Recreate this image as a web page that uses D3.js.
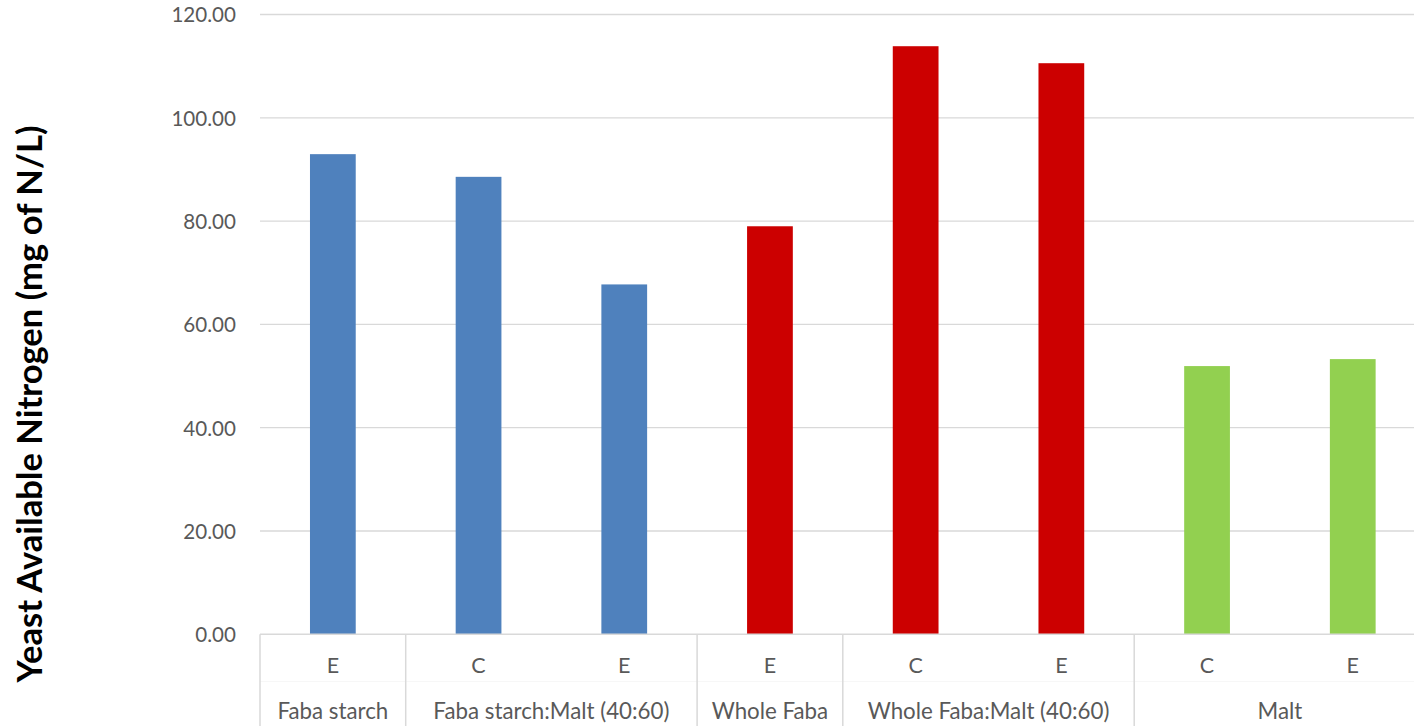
<!DOCTYPE html>
<html>
<head>
<meta charset="utf-8">
<script src="https://cdn.jsdelivr.net/npm/d3@7"></script>
<style>
  html, body { margin: 0; padding: 0; background: #ffffff; overflow: hidden; }
  svg { display: block; }
  text { font-family: Lato, "Open Sans", sans-serif; }
</style>
</head>
<body>
<svg id="chart" width="1414" height="726"></svg>
<script>
// Treatment code under each bar (first axis row)
const treatments = ["E", "C", "E", "E", "C", "E", "C", "E"];
// Substrate group for each bar (second axis row)
const groupOf = ["Faba starch", "Faba starch:Malt (40:60)", "Faba starch:Malt (40:60)",
                 "Whole Faba", "Whole Faba:Malt (40:60)", "Whole Faba:Malt (40:60)",
                 "Malt", "Malt"];
// Yeast available nitrogen, mg of N/L
const yan = [92.96, 88.57, 67.74, 79.0, 113.86, 110.57, 51.93, 53.28];
// Value axis ticks
const yTicks = [0, 20, 40, 60, 80, 100, 120];
// Fill per substrate family
const groupColor = {
  "Faba starch": "#4f81bd",
  "Faba starch:Malt (40:60)": "#4f81bd",
  "Whole Faba": "#cc0000",
  "Whole Faba:Malt (40:60)": "#cc0000",
  "Malt": "#92d050"
};

const svg = d3.select("#chart");
const W = 1414, H = 726;
const left = 260, step = 145.7, n = yan.length;
const right = left + step * n;
const y0 = 634.3, yTop = 14.5;
const gridColor = "#d9d9d9";
const textColor = "#595959";

const idx = d3.range(n);
const x = d3.scaleBand().domain(idx).range([left, right])
  .paddingInner(0.686).paddingOuter(0.343);
const slot = d3.scaleBand().domain(idx).range([left, right]).padding(0);
const y = d3.scaleLinear().domain([0, 120]).range([y0, yTop]);

// Horizontal gridlines
svg.append("g").selectAll("line")
  .data(yTicks.filter(t => t > 0))
  .join("line")
  .attr("x1", left).attr("x2", W)
  .attr("y1", d => y(d)).attr("y2", d => y(d))
  .attr("stroke", gridColor).attr("stroke-width", 1.3);

// Value axis labels
svg.append("g").selectAll("text")
  .data(yTicks)
  .join("text")
  .attr("x", 236)
  .attr("y", d => y(d) + 7.8)
  .attr("text-anchor", "end")
  .attr("font-size", 20.6)
  .attr("fill", textColor)
  .text(d => d3.format(".2f")(d));

// Bars
svg.append("g").selectAll("rect")
  .data(idx)
  .join("rect")
  .attr("x", i => x(i))
  .attr("width", x.bandwidth())
  .attr("y", i => y(yan[i]))
  .attr("height", i => y(0) - y(yan[i]))
  .attr("fill", i => groupColor[groupOf[i]]);

// Category axis baseline
svg.append("line")
  .attr("x1", left).attr("x2", W)
  .attr("y1", y0).attr("y2", y0)
  .attr("stroke", gridColor).attr("stroke-width", 1.5);

// Faint separator between the two label rows
svg.append("line")
  .attr("x1", left).attr("x2", W)
  .attr("y1", 681.5).attr("y2", 681.5)
  .attr("stroke", "#f7f7f7").attr("stroke-width", 1);

// Build group spans from the per-bar group names
const groups = [];
groupOf.forEach((g, i) => {
  const last = groups[groups.length - 1];
  if (last && last.name === g) last.end = i;
  else groups.push({ name: g, start: i, end: i });
});

// Vertical dividers at group edges
const edges = [left].concat(groups.map(g => slot(g.end) + slot.bandwidth()));
svg.append("g").selectAll("line")
  .data(edges)
  .join("line")
  .attr("x1", d => d).attr("x2", d => d)
  .attr("y1", y0).attr("y2", H)
  .attr("stroke", gridColor).attr("stroke-width", 1.5);

// First row: treatment codes
svg.append("g").selectAll("text")
  .data(idx)
  .join("text")
  .attr("x", i => slot(i) + slot.bandwidth() / 2)
  .attr("y", 673.3)
  .attr("text-anchor", "middle")
  .attr("font-size", 21.5)
  .attr("fill", textColor)
  .text(i => treatments[i]);

// Second row: substrate groups
svg.append("g").selectAll("text")
  .data(groups)
  .join("text")
  .attr("x", g => (slot(g.start) + slot(g.end) + slot.bandwidth()) / 2)
  .attr("y", 719.3)
  .attr("text-anchor", "middle")
  .attr("font-size", 22.3)
  .attr("fill", textColor)
  .text(g => g.name);

// Value axis title
svg.append("text")
  .attr("transform", "translate(42,404) rotate(-90)")
  .attr("text-anchor", "middle")
  .attr("font-size", 34.6)
  .attr("font-weight", "bold")
  .attr("fill", "#000000")
  .text("Yeast Available Nitrogen (mg of N/L)");
</script>
</body>
</html>
